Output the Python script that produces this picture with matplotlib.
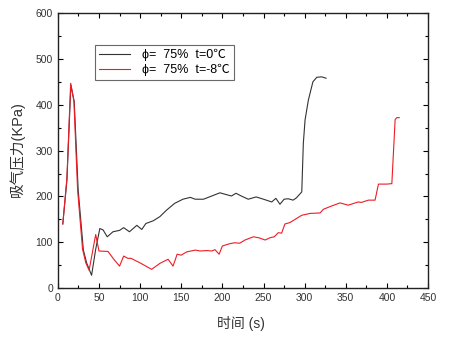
import matplotlib.pyplot as plt
from matplotlib.ticker import MultipleLocator

plt.rcParams['font.family'] = ['Liberation Sans', 'Noto Sans CJK SC', 'DejaVu Sans']

# suction pressure vs. time, phi = 75%, t = 0 C
t_warm = [6, 11, 15.8, 19.9, 24.7, 31, 35, 41, 46, 51, 55, 60, 67, 75, 80, 87, 96, 102,
          107, 116, 124, 132, 142, 152, 161, 167, 177, 187, 197, 207, 211, 216.5, 223,
          231.5, 241, 250, 260, 265, 270, 275, 280, 286, 290, 294, 296.5, 298.4, 300.5,
          304.5, 310, 314.7, 320.7, 326]
p_warm = [140, 235, 443, 407, 214, 83, 55, 28, 85, 130, 127, 112, 123, 126, 132, 123, 137, 128,
          141, 147, 156, 170, 185, 194, 198, 194, 194, 201, 208, 203, 201, 207, 201,
          194, 199, 194, 188, 196, 183, 194, 195, 192, 197, 205, 210, 316, 367,
          410, 450, 460, 461, 458]

# suction pressure vs. time, phi = 75%, t = -8 C
t_cold = [6, 11, 15.6, 19.5, 24, 30, 34, 38, 46, 50, 61, 68, 75, 80, 85, 89, 100, 114, 124,
          134, 140, 145, 150, 156.5, 167, 173, 181, 187, 191, 196, 200, 209, 215, 221,
          227.5, 237.6, 244, 252, 258, 263, 268, 272, 276, 282, 296.5, 306.6, 318.7,
          322.7, 331, 343, 353, 365, 369, 377.5, 385.6, 389.7, 400, 406, 410, 412, 415]
p_cold = [140, 240, 447, 408, 214, 85, 55, 39, 117, 81, 80, 63, 48, 70, 65, 65, 55, 41, 54,
          63, 48, 74, 72, 79, 83, 81, 82, 81, 84, 74, 92, 97, 99, 98,
          105, 112, 110, 105, 110, 112, 121, 120, 140, 143, 159, 163, 164,
          172, 178, 186, 181, 188, 187, 192, 192, 227, 227, 228, 368, 372, 372]

fig = plt.figure(figsize=(4.52, 3.37), dpi=100)
ax = fig.add_axes([0.128, 0.145, 0.819, 0.816])

ax.plot(t_warm, p_warm, color='#333333', lw=0.8, label='ϕ=  75%  t=0℃')
ax.plot(t_cold, p_cold, color='#ee1c25', lw=0.8, label='ϕ=  75%  t=-8℃')

ax.set_xlim(0, 450)
ax.set_ylim(0, 600)
ax.xaxis.set_major_locator(MultipleLocator(50))
ax.xaxis.set_minor_locator(MultipleLocator(25))
ax.yaxis.set_major_locator(MultipleLocator(100))
ax.yaxis.set_minor_locator(MultipleLocator(50))
ax.tick_params(which='both', direction='in', top=True, right=True,
               labelsize=7.5, labelcolor='#333333', width=0.8)
ax.tick_params(which='major', length=3.5)
ax.tick_params(which='minor', length=2)
for s in ax.spines.values():
    s.set_linewidth(1.0)
    s.set_color('#222222')

ax.set_xlabel('时间 (s)', fontsize=10, color='#333333')
ax.set_ylabel('吸气压力(KPa)', fontsize=10.5, color='#333333')
ax.xaxis.set_label_coords(0.495, -0.1)
ax.yaxis.set_label_coords(-0.09, 0.505)

leg = ax.legend(loc='upper left', bbox_to_anchor=(0.1, 0.884), fontsize=9,
                frameon=True, fancybox=False, edgecolor='#444444',
                handlelength=2.5, handletextpad=1.0, borderpad=0.3,
                labelspacing=0.25, borderaxespad=0)
leg.get_frame().set_linewidth(0.8)

fig.savefig('out.png', dpi=100)
